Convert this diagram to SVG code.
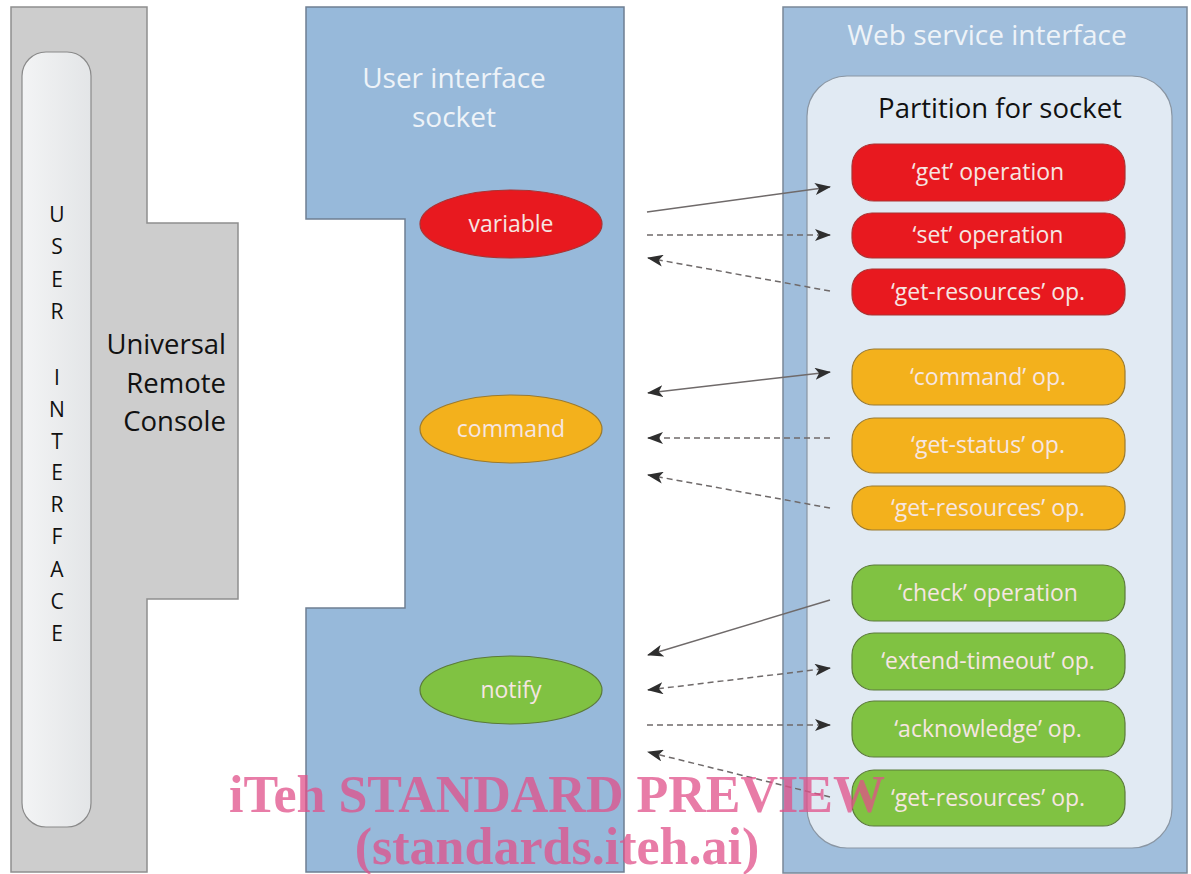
<svg xmlns="http://www.w3.org/2000/svg" width="1191" height="874" viewBox="0 0 1191 874">
<style>
.t{font-family:"Open Sans","Liberation Sans",sans-serif}
.lt{fill:#eef3f8;font-size:28px;text-anchor:middle}
.dk{fill:#111;font-size:27.5px}
.op{fill:#f6e6e2;font-size:23px;text-anchor:middle}
.el{fill:#f6e6e2;font-size:23px;text-anchor:middle}
.ui{fill:#111;font-size:21px;text-anchor:middle}
.ln{stroke:#6f6a6a;stroke-width:1.5;fill:none}
.ds{stroke-dasharray:6 4}
.red{fill:#e8191f;stroke:#a33;stroke-width:1.2}
.org{fill:#f3b11c;stroke:#9a7a30;stroke-width:1.2}
.grn{fill:#80c242;stroke:#5b7a3a;stroke-width:1.2}
.wm{font-family:"Liberation Serif",serif;font-weight:bold;fill:#e0508a;fill-opacity:0.75}
</style>
<defs>
<marker id="ah" viewBox="0 0 16 12" refX="15" refY="6" markerWidth="16" markerHeight="12" markerUnits="userSpaceOnUse" orient="auto-start-reverse">
<path d="M0,0 L16,6 L0,12 L4,6 Z" fill="#2e2e2e"/>
</marker>
<linearGradient id="gp" x1="0" y1="0" x2="1" y2="0">
<stop offset="0" stop-color="#f3f4f5"/><stop offset="1" stop-color="#e3e5e7"/>
</linearGradient>
</defs>
<rect width="1191" height="874" fill="#ffffff"/>

<g id="urc">
<polygon points="11,7 147,7 147,223 238,223 238,599 147,599 147,872 11,872" fill="#cdcdcd" stroke="#8f8f8f" stroke-width="1.5"/>
<rect x="22" y="52" width="69" height="775" rx="24" fill="url(#gp)" stroke="#8a8a8a" stroke-width="1.2"/>
<text class="t ui"><tspan x="57" y="222">U</tspan><tspan x="57" y="254">S</tspan><tspan x="57" y="287">E</tspan><tspan x="57" y="319">R</tspan><tspan x="57" y="385">I</tspan><tspan x="57" y="417">N</tspan><tspan x="57" y="449">T</tspan><tspan x="57" y="480">E</tspan><tspan x="57" y="512">R</tspan><tspan x="57" y="544">F</tspan><tspan x="57" y="577">A</tspan><tspan x="57" y="609">C</tspan><tspan x="57" y="641">E</tspan></text>
<text class="t dk" text-anchor="end"><tspan x="226" y="354">Universal</tspan><tspan x="226" y="393">Remote</tspan><tspan x="226" y="431">Console</tspan></text>
</g>

<g id="socket">
<polygon points="306,7 624,7 624,872 306,872 306,608 405,608 405,219 306,219" fill="#97b9da" stroke="#6f7f92" stroke-width="1.5"/>
<text class="t lt"><tspan x="454" y="88">User interface</tspan><tspan x="454" y="127">socket</tspan></text>
</g>

<g id="variable">
<ellipse cx="511" cy="224" rx="91" ry="34" class="red"/>
<text class="t el" x="511" y="232">variable</text>
</g>
<g id="command">
<ellipse cx="511" cy="429" rx="91" ry="34" class="org"/>
<text class="t el" x="511" y="437">command</text>
</g>
<g id="notify">
<ellipse cx="511" cy="690" rx="91" ry="34" class="grn"/>
<text class="t el" x="511" y="698">notify</text>
</g>

<g id="webservice">
<rect x="783" y="7" width="404" height="866" fill="#a0bedc" stroke="#7a8898" stroke-width="1.5"/>
<text class="t lt" x="987" y="45">Web service interface</text>
<rect x="807" y="76" width="365" height="772" rx="40" fill="#e1eaf3" stroke="#8a96a3" stroke-width="1.2"/>
<text class="t dk" x="1000" y="118" text-anchor="middle">Partition for socket</text>
</g>

<g id="op-get"><rect x="852" y="144" width="273" height="57" rx="22" class="red"/><text class="t op" x="988" y="180">‘get’ operation</text></g>
<g id="op-set"><rect x="852" y="213" width="273" height="45" rx="20" class="red"/><text class="t op" x="988" y="243">‘set’ operation</text></g>
<g id="op-getres1"><rect x="852" y="269" width="273" height="46" rx="20" class="red"/><text class="t op" x="988" y="300">‘get-resources’ op.</text></g>

<g id="op-command"><rect x="852" y="349" width="273" height="56" rx="22" class="org"/><text class="t op" x="988" y="385">‘command’ op.</text></g>
<g id="op-getstatus"><rect x="852" y="418" width="273" height="55" rx="22" class="org"/><text class="t op" x="988" y="453">‘get-status’ op.</text></g>
<g id="op-getres2"><rect x="852" y="486" width="273" height="44" rx="20" class="org"/><text class="t op" x="988" y="516">‘get-resources’ op.</text></g>

<g id="op-check"><rect x="852" y="565" width="273" height="56" rx="22" class="grn"/><text class="t op" x="988" y="601">‘check’ operation</text></g>
<g id="op-extend"><rect x="852" y="633" width="273" height="57" rx="22" class="grn"/><text class="t op" x="988" y="669">‘extend-timeout’ op.</text></g>
<g id="op-ack"><rect x="852" y="701" width="273" height="56" rx="22" class="grn"/><text class="t op" x="988" y="737">‘acknowledge’ op.</text></g>
<g id="op-getres3"><rect x="852" y="770" width="273" height="56" rx="22" class="grn"/><text class="t op" x="988" y="806">‘get-resources’ op.</text></g>

<g id="connectors">
<line class="ln" x1="647" y1="212" x2="830" y2="187" marker-end="url(#ah)"/>
<line class="ln ds" x1="647" y1="235" x2="830" y2="235" marker-end="url(#ah)"/>
<line class="ln ds" x1="830" y1="291" x2="648" y2="258" marker-end="url(#ah)"/>
<line class="ln" x1="648" y1="393" x2="830" y2="372" marker-start="url(#ah)" marker-end="url(#ah)"/>
<line class="ln ds" x1="830" y1="438" x2="648" y2="438" marker-end="url(#ah)"/>
<line class="ln ds" x1="830" y1="508" x2="648" y2="475" marker-end="url(#ah)"/>
<line class="ln" x1="830" y1="600" x2="648" y2="655" marker-end="url(#ah)"/>
<line class="ln ds" x1="648" y1="690" x2="830" y2="668" marker-start="url(#ah)" marker-end="url(#ah)"/>
<line class="ln ds" x1="647" y1="725" x2="830" y2="725" marker-end="url(#ah)"/>
<line class="ln ds" x1="830" y1="797" x2="648" y2="752" marker-end="url(#ah)"/>
</g>

<g id="watermark">
<text class="wm" x="557" y="812" font-size="52" text-anchor="middle">iTeh STANDARD PREVIEW</text>
<text class="wm" x="557" y="864" font-size="52" text-anchor="middle">(standards.iteh.ai)</text>
</g>
</svg>
